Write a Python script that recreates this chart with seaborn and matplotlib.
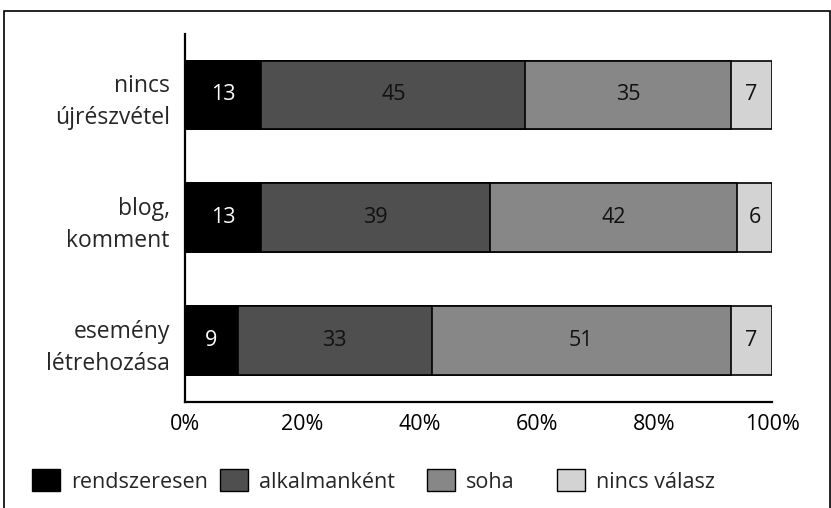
import matplotlib
matplotlib.use("Agg")
import matplotlib.pyplot as plt
import matplotlib.patches as mpatches
import numpy as np
import pandas as pd
import seaborn as sns

# ── DATA ───────────────────────────────────────────────
categories = ["nincs\nújrészvétel", "blog,\nkomment", "esemény\nlétrehozása"]
series_names = ["rendszeresen", "alkalmanként", "soha", "nincs válasz"]
rendszeresen = [13, 13, 9]
alkalmankent = [45, 39, 33]
soha = [35, 42, 51]
nincs_valasz = [7, 6, 7]
x_ticks = [0, 20, 40, 60, 80, 100]
x_tick_labels = ["0%", "20%", "40%", "60%", "80%", "100%"]

colors = ["#000000", "#4f4f4f", "#878787", "#d3d3d3"]
text_colors = ["white", "#111111", "#111111", "#111111"]

values = np.array([rendszeresen, alkalmankent, soha, nincs_valasz], dtype=float)
cum = values.cumsum(axis=0)

sns.set_style("white")
plt.rcParams["font.family"] = ["Open Sans", "DejaVu Sans"]
FS = 15.5
plt.rcParams["font.size"] = FS

fig = plt.figure(figsize=(8.31, 5.08), dpi=100)
ax = fig.add_axes([185 / 831, 1 - 402 / 508, (772 - 185) / 831, (402 - 33.5) / 508])

# ── STACKED BARS (layered, largest cumulative first) ───
for i in range(len(series_names) - 1, -1, -1):
    df = pd.DataFrame({"cat": categories, "val": cum[i]})
    sns.barplot(data=df, x="val", y="cat", orient="h", color=colors[i],
                width=0.56, edgecolor="black", linewidth=1.2, saturation=1,
                ax=ax)

# value labels
for i in range(len(series_names)):
    for j in range(len(categories)):
        ax.text(cum[i][j] - values[i][j] / 2, j, f"{int(values[i][j])}",
                ha="center", va="center", color=text_colors[i], fontsize=FS)

ax.set_xlim(0, 100)
ax.set_ylim(2.5, -0.5)
ax.set_xticks(x_ticks)
ax.set_xticklabels(x_tick_labels)
ax.set_xlabel("")
ax.set_ylabel("")
ax.tick_params(axis="x", direction="in", length=7, width=1.5, pad=9, colors="black",
               labelsize=FS)
ax.tick_params(axis="y", length=0, pad=11, labelsize=16.5)
for lbl in ax.get_yticklabels():
    lbl.set_multialignment("right")
    lbl.set_linespacing(1.45)
for s in ["top", "right"]:
    ax.spines[s].set_visible(False)
for s in ["left", "bottom"]:
    ax.spines[s].set_color("black")
    ax.spines[s].set_linewidth(1.6)

# ── LEGEND (one entry per box, placed like the original) ─
legend_x = [32, 220, 427, 557]
for c, name, lx in zip(colors, series_names, legend_x):
    h = mpatches.Patch(facecolor=c, edgecolor="black", linewidth=1)
    fig.legend([h], [name], loc="center left", bbox_to_anchor=(lx / 831, 1 - 481 / 508),
               frameon=False, handlelength=1.3, handleheight=1.16,
               handletextpad=0.5, borderaxespad=0, borderpad=0, fontsize=FS)

# outer frame
fig.patches.append(mpatches.Rectangle((4 / 831, -0.05), (826 / 831), 1 - 11 / 508 + 0.05,
                                      transform=fig.transFigure, fill=False,
                                      edgecolor="black", linewidth=1.2))

plt.savefig("out.png", dpi=100)
